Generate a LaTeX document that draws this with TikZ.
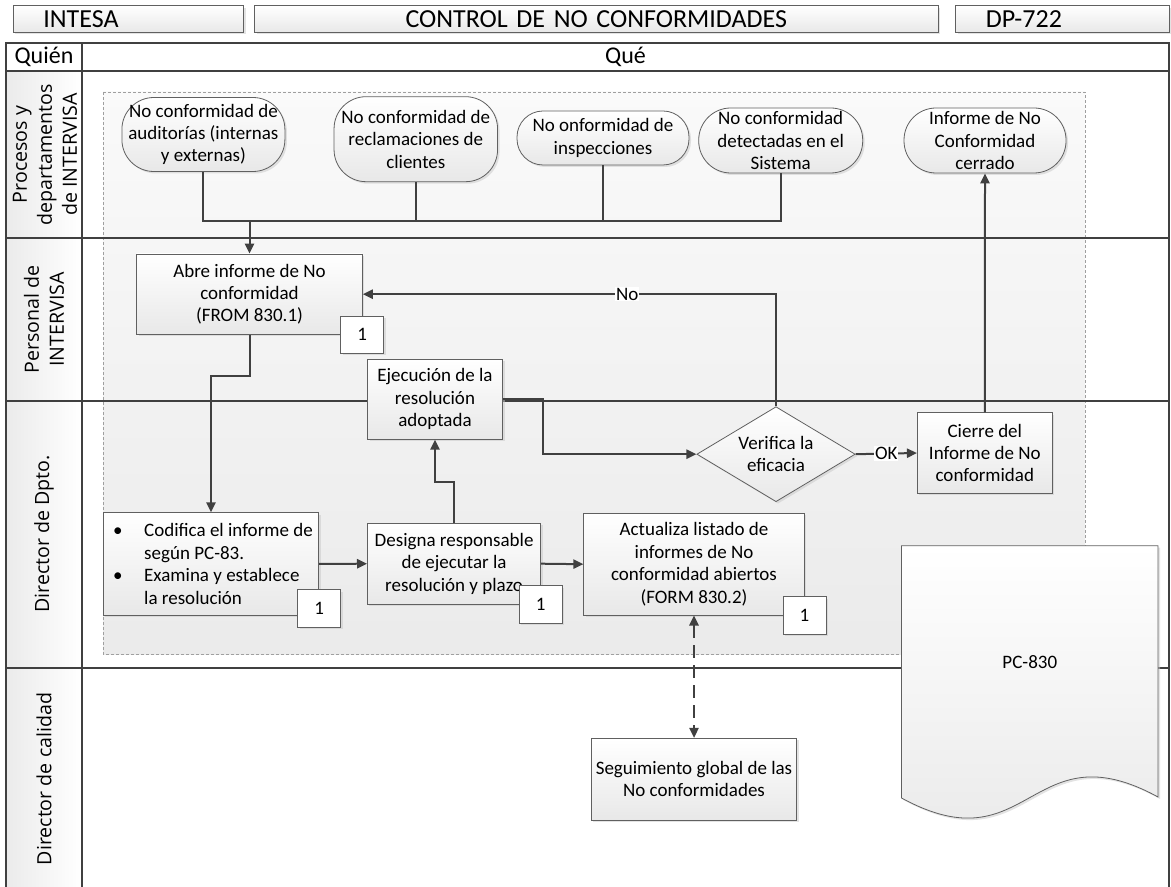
\documentclass[tikz,border=0pt]{standalone}
\usepackage{fontspec}
\setmainfont{Carlito}
\newfontfamily\lanefont{Open Sans}
\usepackage{tikz}
\usetikzlibrary{calc, positioning, arrows.meta, shapes.geometric, shadows}
\usepackage{xcolor}
\definecolor{ink}{RGB}{64, 64, 64}
\definecolor{rim}{RGB}{96, 96, 96}

\begin{document}
\begin{tikzpicture}[x=0.5pt, y=-0.5pt,
  font=\fontsize{9.5}{11.2}\selectfont,
  grad/.style={top color=white, bottom color=black!9},
  shadowed/.style={drop shadow={shadow xshift=1pt, shadow yshift=-1pt, fill=black!22}},
  proc/.style={draw=rim, grad, shadowed, align=center, inner sep=1pt},
  term/.style={proc, rounded corners=16pt, inner ysep=0pt},
  tagbox/.style={draw=rim, fill=white, shadowed, minimum width=21.6pt, minimum height=18.7pt, inner sep=0pt},
  flow/.style={draw=ink, line width=1pt, -{Triangle[length=5pt, width=4.6pt]}},
  dflow/.style={draw=ink, line width=1pt, {Triangle[length=5pt, width=4.6pt]}-{Triangle[length=5pt, width=4.6pt]}, dash pattern=on 6.5pt off 3.5pt},
  link/.style={draw=ink, line width=1pt},
  lane/.style={draw=ink, line width=1pt},
  who/.style={rotate=90, align=center, font=\lanefont\fontsize{9.8}{12.5}\selectfont},
  hdr/.style={draw=rim, grad, shadowed, minimum height=13.3pt, inner xsep=15pt, inner ysep=0pt, font=\fontsize{13}{14}\selectfont},
  lbl/.style={fill=white, inner sep=0.5pt}
]
  \useasboundingbox (0,0) rectangle (1171,887);

  % header
  \node[hdr, text width=85.2pt, align=left] (hdrA) at (128.6,19) {INTESA};
  \node[hdr, text width=311.75pt, align=center] (hdrB) at (596.25,19) {CONTROL DE NO CONFORMIDADES};
  \node[hdr, text width=76.6pt, align=left] (hdrC) at (1062.4,19) {DP-722};

  % dashed container
  \path[draw=gray!75, dash pattern=on 1.5pt off 1pt, top color=black!2, bottom color=black!8] (103.3,92) rectangle (1085,654);

  % lanes
  \fill[left color=black!8, right color=white] (5.7,70.7) rectangle (81.5,887);
  \draw[lane] (5.7,887) -- (5.7,43.3) -- (1169,43.3) -- (1169,887);
  \draw[lane] (81.5,43.3) -- (81.5,887);
  \draw[lane] (5.7,70.7) -- (1169,70.7);
  \draw[lane] (5.7,238.3) -- (1169,238.3);
  \draw[lane] (5.7,400.7) -- (1169,400.7);
  \draw[lane] (5.7,667.7) -- (1169,667.7);
  \node[font=\fontsize{12}{13}\selectfont] (quien) at (44,57) {Quién};
  \node[font=\fontsize{12}{13}\selectfont] (que) at (625.5,57) {Qué};
  \node[who] (whoA) at (45,154.5) {Procesos y\\departamentos\\de INTERVISA};
  \node[who] (whoB) at (44,319.5) {Personal de\\INTERVISA};
  \node[who] (whoC) at (44,534) {Director de Dpto.};
  \node[who] (whoD) at (44,779) {Director de calidad};

  % sources
  \node[term, minimum width=81.5pt, minimum height=37pt] (t1) at (203.4,134.5) {No conformidad de\\auditorías (internas\\y externas)};
  \node[term, minimum width=81.75pt, minimum height=42.5pt] (t2) at (415.8,139.2) {No conformidad de\\reclamaciones de\\clientes};
  \node[term, rounded corners=13pt, minimum width=86pt, minimum height=27pt] (t3) at (603,138) {No onformidad de\\inspecciones};
  \node[term, minimum width=82pt, minimum height=32.5pt] (t4) at (780.7,140.5) {No conformidad\\detectadas en el\\Sistema};
  \node[term, minimum width=81pt, minimum height=32.5pt] (t5) at (985,140.5) {Informe de No\\Conformidad\\cerrado};

  % steps
  \node[proc, minimum width=112.9pt, minimum height=40.2pt] (abre) at (249.5,294.2) {Abre informe de No\\conformidad\\(FROM 830.1)};
  \node[proc, minimum width=67.5pt, minimum height=40pt] (ejec) at (435,399.3) {Ejecución de la\\resolución\\adoptada};
  \node[proc, minimum width=107.8pt, minimum height=51.2pt, align=left] (cod) at (211,563.9)
    {\hspace*{2pt}\makebox[15.5pt][l]{\textbullet}Codifica el informe de\\
     \hspace*{17.5pt}según PC-83.\\
     \hspace*{2pt}\makebox[15.5pt][l]{\textbullet}Examina y establece\\
     \hspace*{17.5pt}la resolución};
  \node[proc, minimum width=86.7pt, minimum height=40.4pt] (des) at (454.1,563.7) {Designa responsable\\de ejecutar la\\resolución y plazo};
  \node[proc, minimum width=110.3pt, minimum height=50.9pt] (act) at (694,564.2) {Actualiza listado de\\informes de No\\conformidad abiertos\\(FORM 830.2)};
  \node[proc, diamond, aspect=1.67, inner sep=0pt, minimum width=79.2pt, minimum height=47.5pt] (ver) at (776,454.2) {Verifica la\\eficacia};
  \node[proc, minimum width=67.5pt, minimum height=40.3pt] (cie) at (984.8,453) {Cierre del\\Informe de No\\conformidad};
  \node[proc, minimum width=102.7pt, minimum height=40.9pt] (seg) at (694,779.2) {Seguimiento global de las\\No conformidades};

  % connectors
  \coordinate (mrg) at (249.5,220.7);
  \draw[link] (t1.south) |- (mrg);
  \draw[link] (t2.south) |- (mrg);
  \draw[link] (t3.south) |- (mrg);
  \draw[link] (t4.south) |- (mrg);
  \draw[flow] (mrg) -- (abre.north);
  \draw[flow] (abre.south) -- ++(0,41) -| (cod.north);
  \draw[flow] (cod.east) -- (des.west);
  \draw[flow] (des.east) -- (act.west);
  \draw[flow] (des.north) -- ++(0,-40.6) -| (ejec.south);
  \draw[flow] (ejec.east) -- ++(40.2,0) |- (ver.west);
  \draw[flow] (ver.east) -- node[lbl] {OK} (cie.west);
  \draw[flow] (ver.north) |- node[lbl, pos=0.68] {No} (abre.east);
  \draw[flow] (cie.north) -- (t5.south);
  \draw[dflow] (act.south) -- (seg.north);

  % reference tags
  \node[tagbox] (tagA) at (362.2,334.7) {1};
  \node[tagbox] (tagB) at (319.2,608.3) {1};
  \node[tagbox] (tagC) at (540.6,604.5) {1};
  \node[tagbox] (tagD) at (804.5,615.4) {1};

  % document PC-830
  \path[draw=rim, grad, shadowed] (901.5,545.7) -- (1158,545.7) -- (1158,797)
    .. controls (1030,727) and (1030,868) .. (901.5,798) -- cycle;
  \node (pcdoc) at (1029.8,661.7) {PC-830};
\end{tikzpicture}
\end{document}
